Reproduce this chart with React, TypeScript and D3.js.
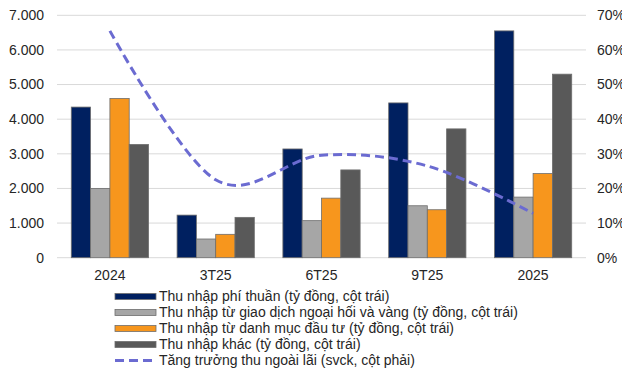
import React from "react";
import * as d3 from "d3";

const categories = ["2024", "3T25", "6T25", "9T25", "2025"];
const phiThuan = [4350, 1230, 3140, 4470, 6550];
const ngoaiHoiVang = [2000, 540, 1070, 1500, 1750];
const danhMucDauTu = [4600, 675, 1720, 1385, 2430];
const thuNhapKhac = [3270, 1165, 2535, 3720, 5300];
const tangTruong = [65.5, 22.5, 29.6, 26.5, 12.8];
const leftTicks = [0, 1000, 2000, 3000, 4000, 5000, 6000, 7000];
const rightTicks = [0, 10, 20, 30, 40, 50, 60, 70];

const seriesNames = [
  "Thu nhập phí thuần (tỷ đồng, cột trái)",
  "Thu nhập từ giao dịch ngoại hối và vàng (tỷ đồng, cột trái)",
  "Thu nhập từ danh mục đầu tư (tỷ đồng, cột trái)",
  "Thu nhập khác (tỷ đồng, cột trái)",
];
const lineName = "Tăng trưởng thu ngoài lãi (svck, cột phải)";
const seriesColors = ["#002060", "#A6A6A6", "#F7961D", "#595959"];
const lineColor = "#6B6BD1";

const W = 622;
const H = 373;
const plot = { left: 57, right: 586, top: 15.3, bottom: 257.7 };
const font = "'Liberation Sans', Arial, sans-serif";
const fs = 14;

export default function App() {
  const series = [phiThuan, ngoaiHoiVang, danhMucDauTu, thuNhapKhac];
  const x = d3.scaleBand<string>().domain(categories).range([plot.left, plot.right]).padding(0);
  const groupW = x.bandwidth() * 0.73;
  const xs = d3
    .scaleBand<number>()
    .domain(d3.range(series.length))
    .range([-groupW / 2, groupW / 2])
    .padding(0);
  const yL = d3.scaleLinear().domain([0, 7000]).range([plot.bottom, plot.top]);
  const yR = d3.scaleLinear().domain([0, 70]).range([plot.bottom, plot.top]);
  const fmt = (v: number) => d3.format(",")(v).replace(/,/g, ".");
  const cx = (c: string) => (x(c) as number) + x.bandwidth() / 2;

  const line = d3
    .line<number>()
    .x((_, i) => cx(categories[i]))
    .y((d) => yR(d))
    .curve(d3.curveCatmullRom.alpha(0));

  const legendY0 = 296.5;
  const legendStep = 16;

  return (
    <svg width={W} height={H} style={{ position: "absolute", left: 0, top: 0, background: "#fff" }}>
      {leftTicks.map((t) => (
        <line key={t} x1={plot.left} x2={plot.right} y1={yL(t)} y2={yL(t)} stroke="#D9D9D9" strokeWidth={1} />
      ))}
      {leftTicks.map((t) => (
        <text key={t} x={44} y={yL(t)} dy="0.35em" textAnchor="end" fontFamily={font} fontSize={fs} fill="#262626">
          {fmt(t)}
        </text>
      ))}
      {rightTicks.map((t) => (
        <text key={t} x={597} y={yR(t)} dy="0.35em" textAnchor="start" fontFamily={font} fontSize={fs} fill="#262626">
          {t}%
        </text>
      ))}
      {series.map((vals, si) =>
        vals.map((v, ci) => (
          <rect
            key={`${si}-${ci}`}
            x={cx(categories[ci]) + (xs(si) as number)}
            y={yL(v)}
            width={xs.bandwidth()}
            height={plot.bottom - yL(v)}
            fill={seriesColors[si]}
            stroke="#6E6E6E"
            strokeWidth={0.8}
          />
        ))
      )}
      <path d={line(tangTruong) || ""} fill="none" stroke={lineColor} strokeWidth={3} strokeDasharray="9 5" />
      {categories.map((c) => (
        <text key={c} x={cx(c)} y={280} textAnchor="middle" fontFamily={font} fontSize={fs} fill="#262626">
          {c}
        </text>
      ))}
      {seriesNames.map((n, i) => (
        <g key={n}>
          <rect x={115} y={legendY0 + i * legendStep - 3} width={41} height={6} fill={seriesColors[i]} stroke="#6E6E6E" strokeWidth={0.8} />
          <text x={159} y={legendY0 + i * legendStep} dy="0.35em" fontFamily={font} fontSize={fs} fill="#262626">
            {n}
          </text>
        </g>
      ))}
      <line
        x1={115}
        x2={156}
        y1={legendY0 + 4 * legendStep}
        y2={legendY0 + 4 * legendStep}
        stroke={lineColor}
        strokeWidth={3}
        strokeDasharray="9 5"
      />
      <text x={159} y={legendY0 + 4 * legendStep} dy="0.35em" fontFamily={font} fontSize={fs} fill="#262626">
        {lineName}
      </text>
    </svg>
  );
}
